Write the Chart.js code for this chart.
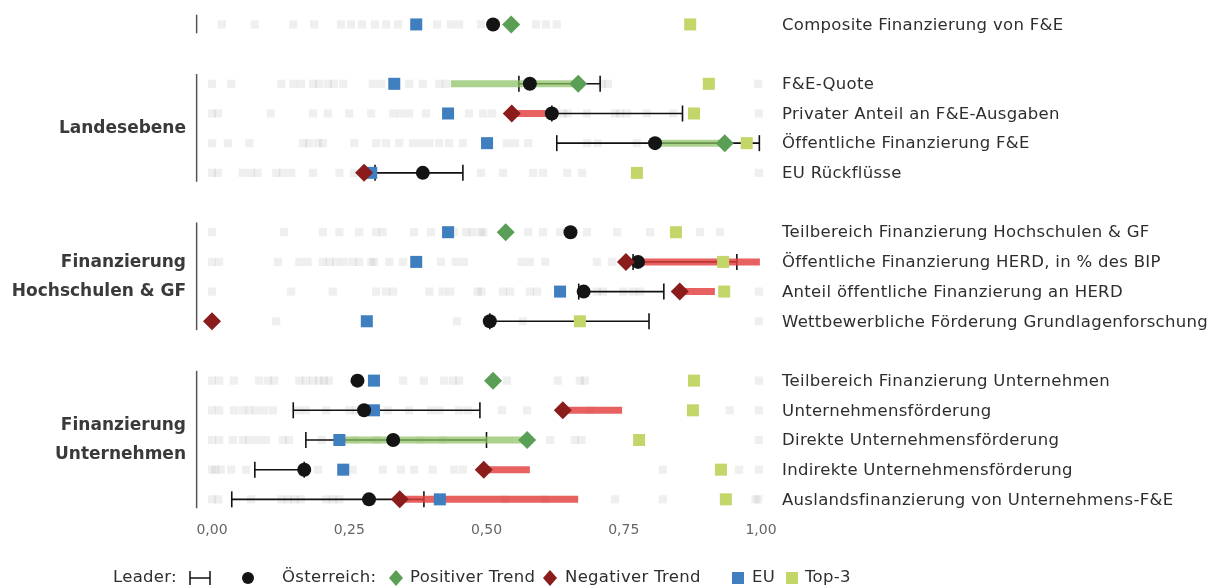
<!DOCTYPE html>
<html>
<head>
<meta charset="utf-8">
<script src="https://cdn.jsdelivr.net/npm/chart.js@4.4.1/dist/chart.umd.min.js"></script>
<style>
  html, body { margin: 0; padding: 0; background: #fff; }
  #wrap { width: 1213px; height: 588px; position: relative; }
</style>
</head>
<body>
<div id="wrap"><canvas id="chart" width="1213" height="588"></canvas></div>
<script>
// --- Daten ---
const rowLabels = [
  "Composite Finanzierung von F&E",
  "F&E-Quote",
  "Privater Anteil an F&E-Ausgaben",
  "Öffentliche Finanzierung F&E",
  "EU Rückflüsse",
  "Teilbereich Finanzierung Hochschulen & GF",
  "Öffentliche Finanzierung HERD, in % des BIP",
  "Anteil öffentliche Finanzierung an HERD",
  "Wettbewerbliche Förderung Grundlagenforschung",
  "Teilbereich Finanzierung Unternehmen",
  "Unternehmensförderung",
  "Direkte Unternehmensförderung",
  "Indirekte Unternehmensförderung",
  "Auslandsfinanzierung von Unternehmens-F&E"
];
// Zeilenposition (Lücken zwischen den Gruppen)
const rowPos = [0, 2, 3, 4, 5, 7, 8, 9, 10, 12, 13, 14, 15, 16];

const groupLabels = [[], ["Landesebene"], ["Finanzierung", "Hochschulen & GF"], ["Finanzierung", "Unternehmen"]];
const groupFirst = [0, 2, 7, 12];
const groupLast = [0, 5, 10, 16];

const euVals   = [0.372, 0.332, 0.430, 0.501, 0.290, 0.430, 0.372, 0.634, 0.282, 0.295, 0.295, 0.232, 0.239, 0.415];
const atVals   = [0.512, 0.579, 0.619, 0.807, 0.384, 0.653, 0.776, 0.677, 0.506, 0.265, 0.277, 0.330, 0.168, 0.286];
const top3Vals = [0.871, 0.905, 0.878, 0.974, 0.774, 0.845, 0.931, 0.933, 0.670, 0.878, 0.876, 0.778, 0.927, 0.936];
const trendVals = [0.545, 0.667, 0.546, 0.934, 0.277, 0.535, 0.754, 0.852, 0.000, 0.512, 0.639, 0.574, 0.495, 0.342];
const trendDir  = ["+", "+", "-", "+", "-", "+", "-", "-", "-", "+", "-", "+", "-", "-"];
const barLo = [null, 0.435, 0.546, 0.807, null, null, 0.776, 0.852, null, null, 0.639, 0.232, 0.495, 0.342];
const barHi = [null, 0.667, 0.612, 0.934, null, null, 0.998, 0.916, null, null, 0.747, 0.574, 0.579, 0.667];
const leaderLo = [null, 0.559, 0.619, 0.628, 0.297, null, 0.767, 0.668, 0.506, null, 0.148, 0.171, 0.078, 0.036];
const leaderHi = [null, 0.707, 0.857, 0.997, 0.457, null, 0.956, 0.823, 0.796, null, 0.488, 0.500, 0.168, 0.386];

// übrige Länder (graue Quadrate)
const others = [
  [0.018, 0.078, 0.148, 0.186, 0.235, 0.253, 0.273, 0.297, 0.317, 0.339, 0.372, 0.410, 0.435, 0.450, 0.490, 0.590, 0.608, 0.628],
  [0.0, 0.035, 0.126, 0.148, 0.162, 0.184, 0.195, 0.211, 0.222, 0.239, 0.293, 0.308, 0.359, 0.384, 0.414, 0.426, 0.710, 0.721, 0.995],
  [0.0, 0.011, 0.107, 0.184, 0.211, 0.250, 0.290, 0.330, 0.344, 0.359, 0.390, 0.468, 0.494, 0.510, 0.639, 0.648, 0.683, 0.734, 0.743, 0.756, 0.792, 0.840, 0.996],
  [0.0, 0.029, 0.068, 0.166, 0.177, 0.193, 0.202, 0.259, 0.299, 0.317, 0.341, 0.366, 0.381, 0.396, 0.414, 0.432, 0.457, 0.537, 0.552, 0.576, 0.683, 0.703, 0.774],
  [0.0, 0.011, 0.056, 0.071, 0.083, 0.117, 0.129, 0.144, 0.184, 0.232, 0.259, 0.490, 0.530, 0.585, 0.603, 0.647, 0.674, 0.996],
  [0.0, 0.131, 0.202, 0.232, 0.268, 0.299, 0.311, 0.368, 0.399, 0.441, 0.463, 0.475, 0.490, 0.494, 0.576, 0.603, 0.634, 0.683, 0.738, 0.798, 0.889, 0.925],
  [0.0, 0.013, 0.120, 0.159, 0.174, 0.202, 0.214, 0.226, 0.240, 0.256, 0.268, 0.290, 0.295, 0.323, 0.348, 0.417, 0.444, 0.459, 0.564, 0.579, 0.607, 0.701, 0.729],
  [0.0, 0.144, 0.220, 0.299, 0.317, 0.330, 0.396, 0.420, 0.434, 0.484, 0.491, 0.530, 0.543, 0.579, 0.592, 0.701, 0.712, 0.749, 0.767, 0.780, 0.996],
  [0.117, 0.446, 0.566, 0.996],
  [0.0, 0.013, 0.040, 0.086, 0.102, 0.113, 0.159, 0.171, 0.184, 0.195, 0.204, 0.213, 0.348, 0.386, 0.423, 0.439, 0.450, 0.537, 0.630, 0.670, 0.679, 0.996],
  [0.0, 0.013, 0.040, 0.056, 0.068, 0.080, 0.095, 0.111, 0.157, 0.171, 0.208, 0.250, 0.262, 0.320, 0.359, 0.399, 0.414, 0.450, 0.466, 0.528, 0.574, 0.689, 0.943, 0.996],
  [0.0, 0.013, 0.038, 0.056, 0.068, 0.083, 0.098, 0.129, 0.140, 0.200, 0.260, 0.300, 0.380, 0.420, 0.616, 0.661, 0.673, 0.996],
  [0.0, 0.006, 0.016, 0.035, 0.062, 0.193, 0.256, 0.311, 0.344, 0.368, 0.402, 0.441, 0.457, 0.821, 0.960, 0.996],
  [0.0, 0.011, 0.071, 0.126, 0.138, 0.150, 0.162, 0.208, 0.220, 0.232, 0.534, 0.607, 0.734, 0.821, 0.990, 0.995]
];

const tickVals = [0, 0.25, 0.5, 0.75, 1];

// --- Farben ---
const cGrey = 'rgba(110,110,110,0.11)';
const cEU = '#3f7fbf';
const cTop3 = '#c2d66a';
const cAT = '#141414';
const cPos = '#5a9f55';
const cNeg = '#8a1c1c';
const cBarPos = 'rgba(140,192,100,0.72)';
const cBarNeg = 'rgba(226,62,62,0.82)';

function pts(vals) {
  return vals.map((v, i) => (v === null ? null : { x: v, y: rowPos[i] })).filter(p => p);
}
function segs(lo, hi) {
  const out = [];
  lo.forEach((v, i) => {
    if (v === null) return;
    out.push({ x: v, y: rowPos[i] }, { x: hi[i], y: rowPos[i] }, { x: NaN, y: NaN });
  });
  return out;
}
function trendSegs(dir) {
  const out = [];
  barLo.forEach((v, i) => {
    if (v === null || trendDir[i] !== dir) return;
    out.push({ x: v, y: rowPos[i] }, { x: barHi[i], y: rowPos[i] }, { x: NaN, y: NaN });
  });
  return out;
}
const greyPts = [];
others.forEach((arr, i) => arr.forEach(v => greyPts.push({ x: v, y: rowPos[i] })));

const labelFont = '16.5px "DejaVu Sans", sans-serif';

const textPlugin = {
  id: 'texte',
  afterDraw(chart) {
    const ctx = chart.ctx;
    const xs = chart.scales.x, ys = chart.scales.y;
    ctx.save();
    // Zeilenbeschriftungen
    ctx.font = labelFont;
    ctx.letterSpacing = '0.3px';
    ctx.fillStyle = '#2e2e2e';
    ctx.textBaseline = 'middle';
    ctx.textAlign = 'left';
    rowLabels.forEach((t, i) => ctx.fillText(t, 782, ys.getPixelForValue(rowPos[i]) + 1));

    // Gruppenlinien
    ctx.strokeStyle = '#555';
    ctx.lineWidth = 1.5;
    const lx = xs.getPixelForValue(-0.028);
    groupFirst.forEach((f, g) => {
      ctx.beginPath();
      ctx.moveTo(lx, ys.getPixelForValue(f - 0.33));
      ctx.lineTo(lx, ys.getPixelForValue(groupLast[g] + 0.3));
      ctx.stroke();
    });

    // Gruppenbeschriftungen
    ctx.letterSpacing = '0px';
    ctx.font = 'bold 17px "DejaVu Sans", sans-serif';
    ctx.fillStyle = '#3a3a3a';
    ctx.textAlign = 'right';
    groupLabels.forEach((lines, g) => {
      if (!lines.length) return;
      const mid = (ys.getPixelForValue(groupFirst[g]) + ys.getPixelForValue(groupLast[g])) / 2;
      const lh = 29;
      lines.forEach((l, k) => {
        ctx.fillText(l, 186, mid + (k - (lines.length - 1) / 2) * lh);
      });
    });

    // Legende
    const ly = 578;
    ctx.font = labelFont;
    ctx.letterSpacing = '0.3px';
    ctx.fillStyle = '#2e2e2e';
    ctx.textAlign = 'left';
    ctx.fillText('Leader:', 113, ly);
    ctx.strokeStyle = '#111';
    ctx.lineWidth = 1.5;
    ctx.beginPath();
    ctx.moveTo(190, ly - 7); ctx.lineTo(190, ly + 7);
    ctx.moveTo(190, ly); ctx.lineTo(210, ly);
    ctx.moveTo(210, ly - 7); ctx.lineTo(210, ly + 7);
    ctx.stroke();
    ctx.fillStyle = cAT;
    ctx.beginPath(); ctx.arc(248, ly, 6, 0, Math.PI * 2); ctx.fill();
    ctx.fillStyle = '#2e2e2e';
    ctx.fillText('Österreich:', 282, ly);
    const diamond = (x, col) => {
      ctx.fillStyle = col;
      ctx.beginPath();
      ctx.moveTo(x, ly - 8); ctx.lineTo(x + 7, ly); ctx.lineTo(x, ly + 8); ctx.lineTo(x - 7, ly);
      ctx.closePath(); ctx.fill();
    };
    diamond(396, cPos);
    ctx.fillStyle = '#2e2e2e';
    ctx.fillText('Positiver Trend', 410, ly);
    diamond(550, cNeg);
    ctx.fillStyle = '#2e2e2e';
    ctx.fillText('Negativer Trend', 565, ly);
    ctx.fillStyle = cEU; ctx.fillRect(732, ly - 6, 12, 12);
    ctx.fillStyle = '#2e2e2e'; ctx.fillText('EU', 752, ly);
    ctx.fillStyle = cTop3; ctx.fillRect(786, ly - 6, 12, 12);
    ctx.fillStyle = '#2e2e2e'; ctx.fillText('Top-3', 805, ly);
    ctx.restore();
  }
};

new Chart(document.getElementById('chart'), {
  type: 'scatter',
  data: {
    datasets: [
      { label: 'Positiver Trend', data: pts(trendVals.map((v, i) => trendDir[i] === '+' ? v : null)),
        pointStyle: 'rectRot', pointRadius: 9, backgroundColor: cPos, borderWidth: 0 },
      { label: 'Negativer Trend', data: pts(trendVals.map((v, i) => trendDir[i] === '-' ? v : null)),
        pointStyle: 'rectRot', pointRadius: 9, backgroundColor: cNeg, borderWidth: 0 },
      { label: 'Österreich', data: pts(atVals),
        pointStyle: 'circle', pointRadius: 7, backgroundColor: cAT, borderWidth: 0 },
      { label: 'Top-3', data: pts(top3Vals),
        pointStyle: 'rect', pointRadius: 8.5, backgroundColor: cTop3, borderWidth: 0 },
      { label: 'EU', data: pts(euVals),
        pointStyle: 'rect', pointRadius: 8.5, backgroundColor: cEU, borderWidth: 0 },
      { label: 'Trend +', data: trendSegs('+'), showLine: true, spanGaps: false,
        borderColor: cBarPos, borderWidth: 7, borderCapStyle: 'butt', pointRadius: 0 },
      { label: 'Trend -', data: trendSegs('-'), showLine: true, spanGaps: false,
        borderColor: cBarNeg, borderWidth: 7, borderCapStyle: 'butt', pointRadius: 0 },
      { label: 'Leader', data: segs(leaderLo, leaderHi), showLine: true, spanGaps: false,
        borderColor: '#111', borderWidth: 1.6, pointStyle: 'line', rotation: 90,
        pointRadius: 8, pointBorderColor: '#111', pointBorderWidth: 1.6 },
      { label: 'Andere', data: greyPts,
        pointStyle: 'rect', pointRadius: 5.8, backgroundColor: cGrey, borderWidth: 0 }
    ]
  },
  options: {
    responsive: false,
    animation: false,
    devicePixelRatio: 1,
    clip: false,
    layout: { padding: { left: 212, right: 452, top: 8, bottom: 41 } },
    plugins: { legend: { display: false }, tooltip: { enabled: false } },
    scales: {
      x: {
        type: 'linear', min: 0, max: 1,
        grid: { display: false, drawTicks: false },
        border: { display: false },
        afterBuildTicks: s => { s.ticks = tickVals.map(v => ({ value: v })); },
        ticks: {
          padding: 8,
          color: '#666',
          font: { family: '"DejaVu Sans", sans-serif', size: 14 },
          callback: v => v.toFixed(2).replace('.', ',')
        }
      },
      y: { type: 'linear', min: -0.5, max: 16.5, reverse: true, display: false }
    }
  },
  plugins: [textPlugin]
});
</script>
</body>
</html>
